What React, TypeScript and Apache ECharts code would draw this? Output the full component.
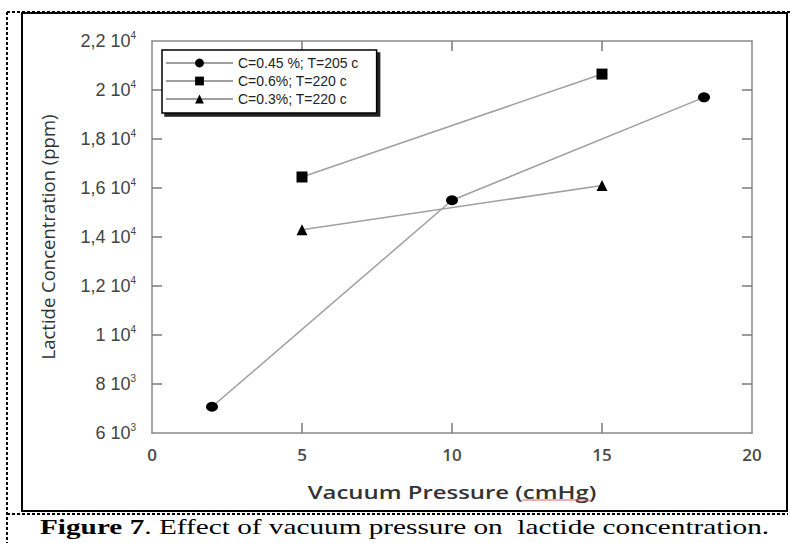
import React, { useEffect, useRef } from "react";
import * as echarts from "echarts";

const seriesNames = ["C=0.45 %; T=205 c", "C=0.6%; T=220 c", "C=0.3%; T=220 c"];
const pressureA = [2, 10, 18.4];
const lactideA = [7070, 15500, 19700];
const pressureB = [5, 15];
const lactideB = [16450, 20650];
const pressureC = [5, 15];
const lactideC = [14300, 16100];
const symbols = ["circle", "rect", "triangle"];
const symbolSizes = [[12, 10], 11, 11];

const xTickValues = [5, 10, 15];
const yTickValues = [8000, 10000, 12000, 14000, 16000, 18000, 20000];

const xTitle = "Vacuum Pressure (cmHg)";
const yTitle = "Lactide Concentration (ppm)";
const captionBold = "Figure 7";
const captionRest = ". Effect of vacuum pressure on  lactide concentration.";

const X_MIN = 0;
const X_MAX = 20;
const X_STEP = 5;
const Y_MIN = 6000;
const Y_MAX = 22000;
const Y_STEP = 2000;

const AXIS_COLOR = "#8a8a8a";
const TICK_COLOR = "#7a7a7a";
const LINE_COLOR = "#a0a0a0";
const TICK_LEN = 10;

function yLabel(v: number): string {
  const exp = v >= 10000 ? 4 : 3;
  const m = Math.round((v / Math.pow(10, exp)) * 10) / 10;
  const s = String(m).replace(".", ",");
  return `{b|${s} 10}{s|${exp}}`;
}

const lineOn = () => ({ show: true, onZero: false, lineStyle: { color: AXIS_COLOR, width: 1.5 } });
const tickStyle = { stroke: TICK_COLOR, lineWidth: 1.5 };

export default function App() {
  const ref = useRef<HTMLDivElement>(null);
  useEffect(() => {
    if (!ref.current) return;
    const chart = echarts.init(ref.current, null, { renderer: "svg" });
    const xs = [pressureA, pressureB, pressureC];
    const ys = [lactideA, lactideB, lactideC];
    const series: any[] = seriesNames.map((name, i) => ({
      name,
      type: "line",
      data: xs[i].map((x, j) => [x, ys[i][j]]),
      symbol: symbols[i],
      symbolSize: symbolSizes[i],
      showAllSymbol: true,
      lineStyle: { color: LINE_COLOR, width: 1.5 },
      itemStyle: { color: "#000" },
      emphasis: { disabled: true },
      z: 5,
    }));
    // inward tick marks on all four sides, placed through the axes' scales
    series.push({
      name: "xticks",
      type: "custom",
      silent: true,
      clip: false,
      z: 6,
      data: xTickValues.map((v) => [v, Y_MIN]),
      renderItem: (_p: any, api: any) => {
        const v = api.value(0);
        const b = api.coord([v, Y_MIN]);
        const t = api.coord([v, Y_MAX]);
        return {
          type: "group",
          children: [
            { type: "line", shape: { x1: b[0], y1: b[1], x2: b[0], y2: b[1] - TICK_LEN }, style: tickStyle },
            { type: "line", shape: { x1: t[0], y1: t[1], x2: t[0], y2: t[1] + TICK_LEN }, style: tickStyle },
          ],
        };
      },
    });
    series.push({
      name: "yticks",
      type: "custom",
      silent: true,
      clip: false,
      z: 6,
      data: yTickValues.map((v) => [X_MIN, v]),
      renderItem: (_p: any, api: any) => {
        const v = api.value(1);
        const l = api.coord([X_MIN, v]);
        const r = api.coord([X_MAX, v]);
        return {
          type: "group",
          children: [
            { type: "line", shape: { x1: l[0], y1: l[1], x2: l[0] + TICK_LEN, y2: l[1] }, style: tickStyle },
            { type: "line", shape: { x1: r[0], y1: r[1], x2: r[0] - TICK_LEN, y2: r[1] }, style: tickStyle },
          ],
        };
      },
    });
    chart.setOption({
      animation: false,
      backgroundColor: "#fff",
      grid: { left: 152, top: 41, width: 600, height: 392, containLabel: false },
      legend: {
        orient: "vertical",
        left: 162,
        top: 50,
        padding: [6, 18, 7, 3],
        itemWidth: 67,
        itemHeight: 11,
        itemGap: 4,
        backgroundColor: "#fff",
        borderColor: "#000",
        borderWidth: 1.5,
        shadowColor: "#222",
        shadowBlur: 0,
        shadowOffsetX: 3,
        shadowOffsetY: 3,
        textStyle: { fontFamily: "Liberation Sans", fontSize: 14, color: "#222", lineHeight: 14 },
        data: seriesNames,
        z: 10,
      },
      xAxis: [
        {
          type: "value",
          min: X_MIN,
          max: X_MAX,
          interval: X_STEP,
          position: "bottom",
          axisLine: lineOn(),
          axisTick: { show: false },
          splitLine: { show: false },
          axisLabel: { margin: 13, fontFamily: "Open Sans", fontWeight: 600, fontSize: 17, color: "#4a4a4a" },
        },
        {
          type: "value",
          min: X_MIN,
          max: X_MAX,
          interval: X_STEP,
          position: "top",
          axisLine: lineOn(),
          axisTick: { show: false },
          splitLine: { show: false },
          axisLabel: { show: false },
        },
      ],
      yAxis: [
        {
          type: "value",
          min: Y_MIN,
          max: Y_MAX,
          interval: Y_STEP,
          position: "left",
          axisLine: lineOn(),
          axisTick: { show: false },
          splitLine: { show: false },
          name: yTitle,
          nameLocation: "middle",
          nameGap: 95,
          nameTextStyle: { fontFamily: "Open Sans", fontSize: 18.5, color: "#333" },
          axisLabel: {
            margin: 16,
            formatter: yLabel,
            rich: {
              b: { fontFamily: "Liberation Sans", fontSize: 18, color: "#444", lineHeight: 21 },
              s: { fontFamily: "Liberation Sans", fontSize: 10, color: "#444", lineHeight: 10, verticalAlign: "top" },
            },
          },
        },
        {
          type: "value",
          min: Y_MIN,
          max: Y_MAX,
          interval: Y_STEP,
          position: "right",
          axisLine: lineOn(),
          axisTick: { show: false },
          splitLine: { show: false },
          axisLabel: { show: false },
        },
      ],
      series,
      graphic: [
        {
          type: "text",
          x: 452,
          y: 492,
          scaleX: 1.33,
          style: {
            text: xTitle,
            font: "600 18px 'Open Sans'",
            fill: "#333",
            align: "center",
            verticalAlign: "middle",
          },
        },
        {
          type: "line",
          shape: { x1: 522, y1: 500, x2: 590, y2: 500 },
          style: { stroke: "#e06060", lineWidth: 1 },
        },
        {
          type: "rect",
          shape: { x: 22, y: 13, width: 765, height: 498 },
          style: { fill: "none", stroke: "#000", lineWidth: 2 },
        },
        {
          type: "line",
          shape: { x1: 7, y1: 12, x2: 790, y2: 12 },
          style: { stroke: "#000", lineWidth: 2, lineDash: [3, 2] },
        },
        {
          type: "line",
          shape: { x1: 7, y1: 12, x2: 7, y2: 543 },
          style: { stroke: "#000", lineWidth: 2, lineDash: [3, 2] },
        },
        {
          type: "line",
          shape: { x1: 7, y1: 514, x2: 788, y2: 514 },
          style: { stroke: "#000", lineWidth: 2, lineDash: [3, 2] },
        },
        {
          type: "text",
          x: 40,
          y: 538,
          scaleX: 1.33,
          style: {
            text: `{b|${captionBold}}{r|${captionRest}}`,
            rich: {
              b: { font: "bold 22px 'Liberation Serif'", fill: "#000" },
              r: { font: "22px 'Liberation Serif'", fill: "#000" },
            },
            align: "left",
            verticalAlign: "bottom",
          },
        },
      ],
    });
    return () => chart.dispose();
  }, []);
  return <div ref={ref} style={{ position: "fixed", left: 0, top: 0, width: 790, height: 543 }} />;
}
